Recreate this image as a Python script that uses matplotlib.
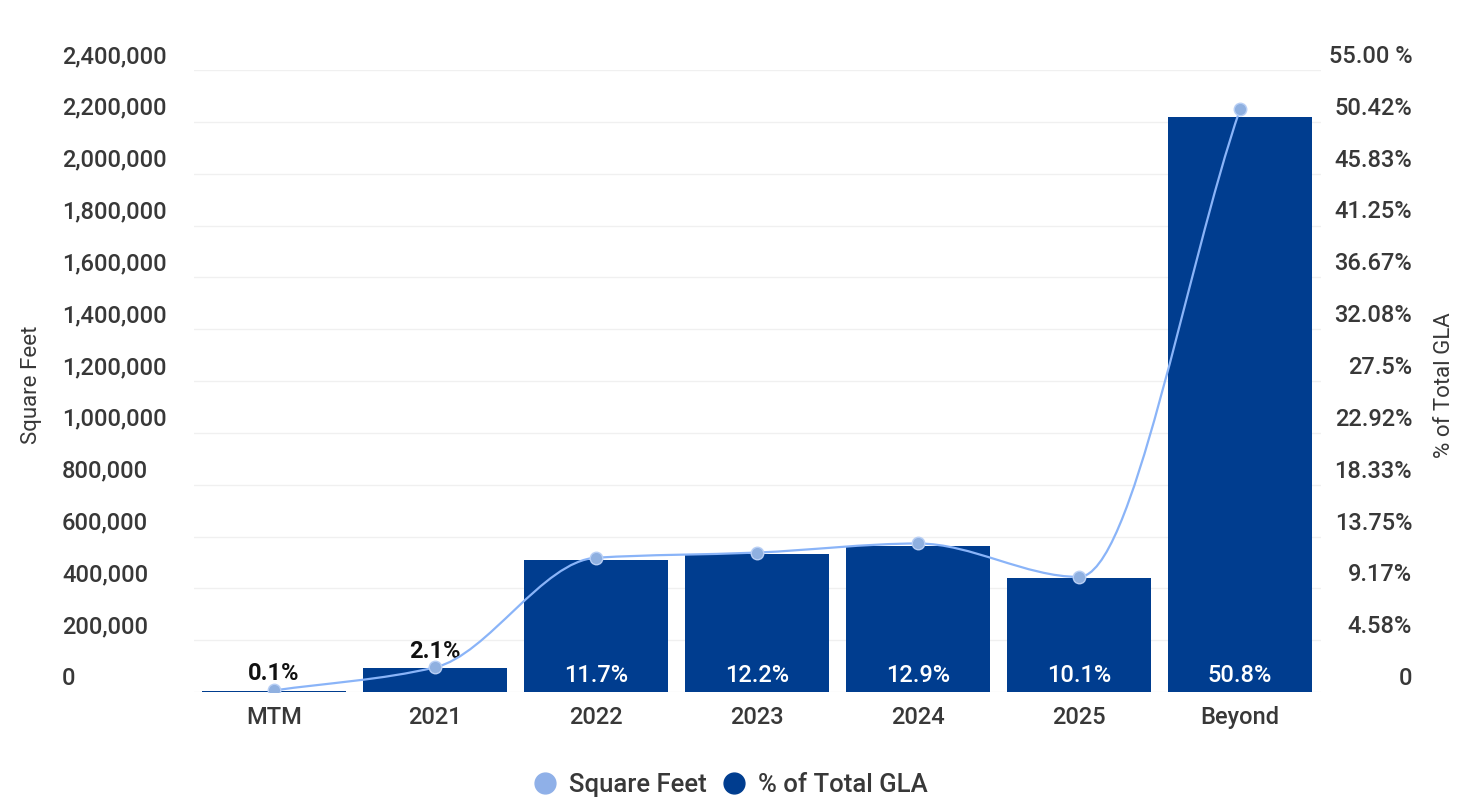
import numpy as np
import matplotlib
matplotlib.use("Agg")
import matplotlib.pyplot as plt
from matplotlib.path import Path
from matplotlib.patches import PathPatch
from matplotlib.lines import Line2D
from matplotlib.transforms import ScaledTranslation

plt.rcParams['font.family'] = ['Roboto', 'DejaVu Sans']
plt.rcParams['font.weight'] = 500

# data
categories = ['MTM', '2021', '2022', '2023', '2024', '2025', 'Beyond']
square_feet = [6000, 95000, 518000, 538000, 573000, 444000, 2248000]
pct_gla = [0.1, 2.1, 11.7, 12.2, 12.9, 10.1, 50.8]
pct_labels = ['0.1%', '2.1%', '11.7%', '12.2%', '12.9%', '10.1%', '50.8%']
left_ticks = list(range(0, 2400001, 200000))
right_ticks = [0, 4.58, 9.17, 13.75, 18.33, 22.92, 27.5, 32.08, 36.67, 41.25, 45.83, 50.42, 55.0]
right_tick_labels = ['0', '4.58%', '9.17%', '13.75%', '18.33%', '22.92%', '27.5%',
                     '32.08%', '36.67%', '41.25%', '45.83%', '50.42%', '55.00 %']

bar_color = '#003d8f'
line_color = '#8ab4f8'
dot_color = '#8fb0e0'
text_color = '#383838'

fig = plt.figure(figsize=(14.64, 7.97), dpi=100)
ax = fig.add_axes([193.5 / 1464, 1 - 692 / 797, 1127 / 1464, 622 / 797])
ax2 = ax.twinx()

x = np.arange(len(categories))

# bars (% of total GLA) on the right axis
ax2.bar(x, pct_gla, width=0.895, color=bar_color, zorder=2)
ax2.set_ylim(0, 55)
ax2.set_yticks(right_ticks)
ax2.set_yticklabels(right_tick_labels)
ax2.set_axisbelow(True)
ax2.grid(axis='y', color='#f0f0f0', linewidth=1)
ax2.tick_params(axis='y', length=0, labelsize=17, labelcolor=text_color, pad=66)
for lab in ax2.get_yticklabels():
    lab.set_horizontalalignment('right')
    lab.set_transform(lab.get_transform() + ScaledTranslation(0, 0.16, fig.dpi_scale_trans))

for i, (v, t) in enumerate(zip(pct_gla, pct_labels)):
    if v < 5:
        ax2.annotate(t, (i, v), xytext=(0, 4), textcoords='offset points',
                     ha='center', va='bottom', fontsize=17, color='#111111', fontweight='bold')
    else:
        ax2.annotate(t, (i, 0), xytext=(0, 12), textcoords='offset points',
                     ha='center', va='center', fontsize=17, color='white')

# smooth line (square feet) on the left axis, monotone cubic through the points
ax.set_zorder(ax2.get_zorder() + 1)
ax.patch.set_visible(False)
ax.set_ylim(0, 2400000)
ax.set_xlim(-0.5, len(categories) - 0.5)
ys = np.array(square_feet, dtype=float)
d = np.diff(ys)
m = np.zeros_like(ys)
m[0], m[-1] = d[0], d[-1]
for k in range(1, len(ys) - 1):
    if d[k - 1] * d[k] > 0:
        m[k] = 2 / (1 / d[k - 1] + 1 / d[k])
verts = [(x[0], ys[0])]
codes = [Path.MOVETO]
for k in range(len(ys) - 1):
    verts += [(x[k] + 1 / 3, ys[k] + m[k] / 3), (x[k + 1] - 1 / 3, ys[k + 1] - m[k + 1] / 3),
              (x[k + 1], ys[k + 1])]
    codes += [Path.CURVE4] * 3
ax.add_patch(PathPatch(Path(verts, codes), facecolor='none', edgecolor=line_color, lw=1.6, zorder=3))
ax.plot(x, square_feet, 'o', ms=9, color=dot_color, mec='#b8cff5', mew=1, zorder=4)

ax.set_yticks(left_ticks)
ax.set_yticklabels([f'{v:,}' for v in left_ticks])
# left labels are left aligned at x = 62 px
ax.tick_params(axis='y', length=0, labelsize=17, labelcolor=text_color, pad=(193.5 - 62) * 0.72)
for lab in ax.get_yticklabels():
    lab.set_horizontalalignment('left')
    lab.set_transform(lab.get_transform() + ScaledTranslation(0, 0.16, fig.dpi_scale_trans))
ax.set_xticks(x)
ax.set_xticklabels(categories)
ax.tick_params(axis='x', length=0, labelsize=17, labelcolor=text_color, pad=10)

for a in (ax, ax2):
    for s in a.spines.values():
        s.set_visible(False)

fig.text(32 / 1464, 1 - 385 / 797, 'Square Feet', rotation=90, ha='center', va='center',
         fontsize=16, color=text_color, fontweight='normal')
fig.text(1445 / 1464, 1 - 385 / 797, '% of Total GLA', rotation=90, ha='center', va='center',
         fontsize=16, color=text_color, fontweight='normal')

handles = [Line2D([], [], ls='none', marker='o', ms=15, color='#8fb0e8'),
           Line2D([], [], ls='none', marker='o', ms=15, color=bar_color)]
fig.legend(handles, ['Square Feet', '% of Total GLA'], loc='center', bbox_to_anchor=(0.4986, 1 - 785 / 797),
           ncol=2, frameon=False, fontsize=18.5, handletextpad=0.45, columnspacing=0.55,
           labelcolor=text_color, handlelength=1.0)

fig.savefig('out.png', dpi=100, facecolor='white')
